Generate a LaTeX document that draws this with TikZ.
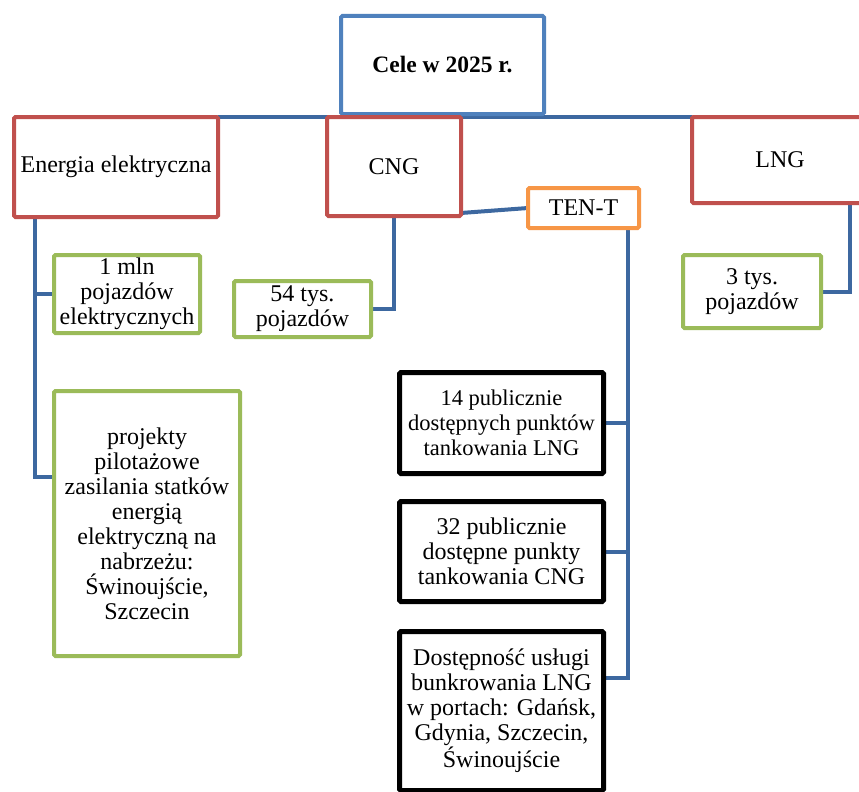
\documentclass[tikz,border=0pt]{standalone}
\usepackage{fontspec}
\setmainfont{Liberation Serif}
\usetikzlibrary{backgrounds}
\definecolor{cblue}{RGB}{79,129,189}
\definecolor{cline}{RGB}{61,104,160}
\definecolor{cred}{RGB}{192,80,77}
\definecolor{cgreen}{RGB}{155,187,89}
\definecolor{corange}{RGB}{247,150,70}
\tikzset{
 box/.style={draw, line width=4pt, fill=white, rounded corners=1.5pt, inner sep=0pt, outer sep=0pt, align=center, font=\fontsize{24}{25}\selectfont, text=black},
 bluebox/.style={box, draw=cblue},
 redbox/.style={box, draw=cred},
 greenbox/.style={box, draw=cgreen},
 orangebox/.style={box, draw=corange},
 blackbox/.style={box, draw=black, line width=5pt},
 conn/.style={draw=cline, line width=4pt},
}
\begin{document}
\begin{tikzpicture}[x=1pt,y=-1pt]
\useasboundingbox (0,0) rectangle (859,792);
\node[bluebox, minimum width=203, minimum height=98, font=\bfseries\fontsize{23.5}{25}\selectfont] (cele) at (442.5,65) {Cele w 2025 r.};
\node[redbox, minimum width=204, minimum height=100] (ener) at (116,167) {Energia elektryczna};
\node[redbox, minimum width=134, minimum height=99] (cng) at (394,166.5) {CNG};
\node[redbox, minimum width=176, minimum height=86] (lng) at (780,160) {LNG};
\node[orangebox, minimum width=111, minimum height=40] (tent) at (583.5,208) {TEN-T};
\node[greenbox, minimum width=138, minimum height=73] (t3) at (752,291.5) {3 tys.\\pojazdów};
\node[greenbox, minimum width=137, minimum height=56] (t54) at (302.5,309) {54 tys.\\pojazdów};
\node[greenbox, minimum width=146, minimum height=78] (m1) at (127,294) {1 mln\\pojazdów\\elektrycznych};
\node[greenbox, minimum width=186, minimum height=265] (proj) at (147,523.5) {projekty\\pilotażowe\\zasilania statków\\energią\\elektryczną na\\nabrzeżu:\\Świnoujście,\\Szczecin};
\node[blackbox, minimum width=204, minimum height=101, font=\fontsize{22.5}{25}\selectfont] (b1) at (501.5,423) {14 publicznie\\dostępnych punktów\\tankowania LNG};
\node[blackbox, minimum width=204, minimum height=100] (b2) at (501.5,551.5) {32 publicznie\\dostępne punkty\\tankowania CNG};
\node[blackbox, minimum width=204, minimum height=159] (b3) at (501.5,711) {Dostępność usługi\\bunkrowania LNG\\w portach: Gdańsk,\\Gdynia, Szczecin,\\Świnoujście};
\begin{scope}[on background layer]
\fill[white] (0,0) rectangle (859,792);
\draw[conn] (ener.north east) -- (lng.north west);
\coordinate (eV) at ([xshift=21pt]ener.south west);
\draw[conn] (eV) |- ([yshift=46.5pt]proj.west);
\draw[conn] (m1.west) -- (m1.west -| eV);
\draw[conn] (cng.south) |- (t54.east);
\draw[conn] ([yshift=-46.5pt]cng.east) -- (tent.west);
\coordinate (tV) at ([xshift=-11pt]tent.south east);
\draw[conn] (tV) |- ([yshift=33pt]b3.east);
\draw[conn] (b1.east) -- (b1.east -| tV);
\draw[conn] (b2.east) -- (b2.east -| tV);
\draw[conn] ([xshift=70pt]lng.south) |- (t3.east);
\end{scope}
\end{tikzpicture}
\end{document}
